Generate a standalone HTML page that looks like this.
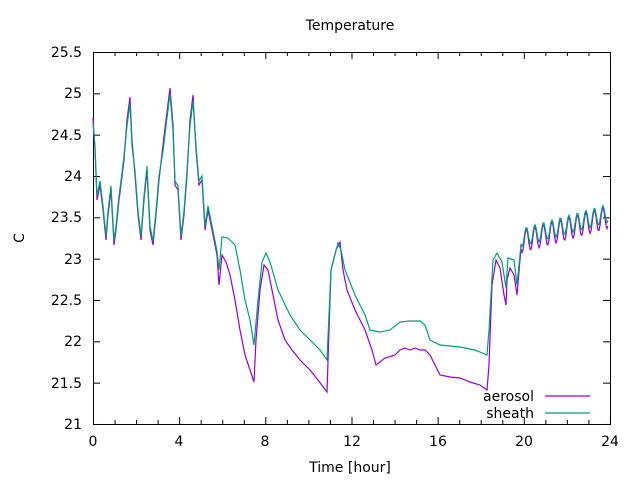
<!DOCTYPE html>
<html><head><meta charset="utf-8"><style>
body{margin:0;background:#fff}
svg{display:block;font-family:"DejaVu Sans","Liberation Sans",sans-serif;font-size:14px}
</style></head><body>
<svg id="s" width="640" height="480" xmlns="http://www.w3.org/2000/svg">
<rect width="640" height="480" fill="#fff"/>
<text x="350" y="30" text-anchor="middle">Temperature</text>
<g text-anchor="end">
<text x="82" y="57">25.5</text><text x="82" y="98">25</text><text x="82" y="140">24.5</text>
<text x="82" y="181">24</text><text x="82" y="222">23.5</text><text x="82" y="264">23</text>
<text x="82" y="305">22.5</text><text x="82" y="346">22</text><text x="82" y="388">21.5</text>
<text x="82" y="429">21</text></g>
<g text-anchor="middle">
<text x="93" y="446">0</text><text x="179" y="446">4</text><text x="265" y="446">8</text>
<text x="352" y="446">12</text><text x="438" y="446">16</text><text x="524" y="446">20</text>
<text x="610" y="446">24</text>
<text x="350" y="472">Time [hour]</text></g>
<text x="19" y="243" text-anchor="middle" transform="rotate(-90 19 238)">C</text>
<g id="ticks" stroke="#000" stroke-width="1"></g>
<rect x="93.5" y="52.5" width="517" height="372" fill="none" stroke="#000"/>
<polyline id="ae" fill="none" stroke="#9400d3" stroke-width="1.2"/>
<polyline id="sh" fill="none" stroke="#009e73" stroke-width="1.2"/>
<text x="534" y="401" text-anchor="end">aerosol</text>
<text x="534" y="418" text-anchor="end">sheath</text>
<line x1="545" y1="396" x2="590" y2="396" stroke="#9400d3" stroke-width="1.2"/>
<line x1="545" y1="413" x2="590" y2="413" stroke="#009e73" stroke-width="1.2"/>
</svg>
<script>
var t=document.getElementById('ticks'),h='';
for(var i=0;i<=9;i++){var y=52.5+i*41.33;h+='<line x1="93" y1="'+y+'" x2="100" y2="'+y+'"/><line x1="603" y1="'+y+'" x2="610" y2="'+y+'"/>';}
for(var i=0;i<=24;i++){var x=93.5+i*21.54,L=(i%4==0)?7:4;h+='<line x1="'+x+'" y1="424" x2="'+x+'" y2="'+(424-L)+'"/><line x1="'+x+'" y1="52" x2="'+x+'" y2="'+(52+L)+'"/>';}
t.innerHTML=h;
var common=[[93,118],[95,150],[97,200],[100,185],[103,210],[106,240],[108,215],[111,190],[114,245],[116,230],[119,200],[121,185],[124,160],[127,120],[130,97],[132,140],[135,175],[138,215],[141,240],[144,200],[147,170],[150,230],[153,245],[156,215],[159,180],[163,145],[166,120],[170,88],[173,125],[175,185],[178,190],[181,240],[184,215],[187,175],[190,120],[193,95],[196,150],[199,185],[202,180],[205,230],[208,210],[211,225],[214,240],[217,255]];
var shc=common.map(function(p){return [p[0],p[1]<150?p[1]+6:p[1]-4];});
var ae=common.concat([[219,285],[222,255],[226,262],[230,275],[235,300],[240,330],[245,355],[250,370],[254,382],[256,340],[260,290],[264,265],[268,270],[272,290],[278,320],[285,340],[292,350],[300,360],[310,370],[318,380],[327,392],[331,270],[336,250],[340,242],[343,270],[347,290],[355,310],[365,330],[372,350],[376,365],[385,358],[395,355],[400,350],[405,348],[410,350],[415,348],[420,350],[425,350],[430,355],[435,365],[440,375],[450,377],[460,378],[470,382],[480,385],[487,390],[489,365],[492,285],[496,260],[500,268],[504,295],[506,305],[507,280],[510,268],[514,275],[517,295],[520,260]]);
var sh=shc.concat([[219,270],[222,237],[228,238],[235,245],[240,270],[245,300],[250,320],[254,345],[258,300],[262,262],[266,253],[270,262],[278,290],[290,315],[300,330],[310,340],[320,350],[327,360],[331,270],[338,243],[341,250],[345,270],[355,295],[365,315],[370,330],[380,332],[390,330],[400,322],[410,321],[420,321],[425,325],[430,340],[440,345],[460,347],[475,350],[487,355],[489,330],[493,260],[497,253],[502,262],[506,288],[508,258],[514,260],[517,285],[520,255]]);
for(var x=521;x<=608;x+=1){var c=242-(x-520)*0.28,p=Math.sin((x-520)/8.5*2*Math.PI);ae.push([x,c+11*p]);sh.push([x,c-4+9*p]);}
function f(a){return a.map(function(p){return p[0]+','+p[1].toFixed(1)}).join(' ');}
document.getElementById('ae').setAttribute('points',f(ae));
document.getElementById('sh').setAttribute('points',f(sh));
</script>
</body></html>
